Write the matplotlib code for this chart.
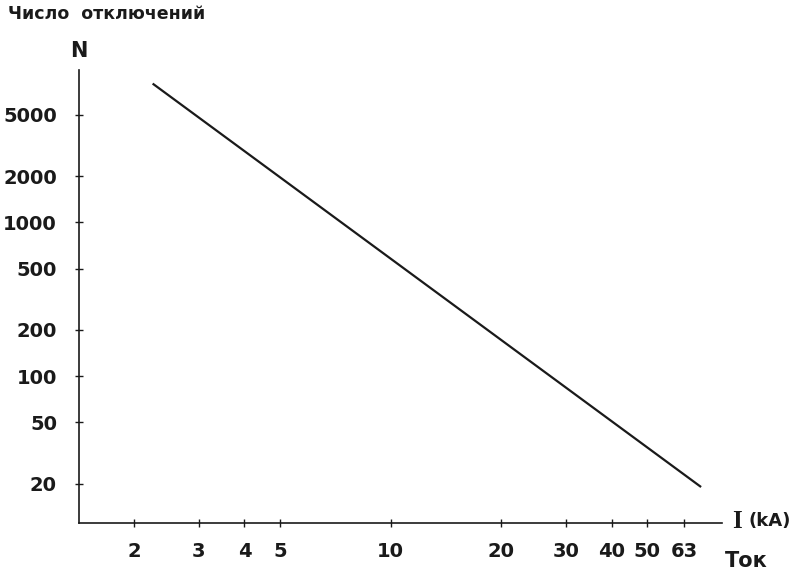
import numpy as np
import matplotlib.pyplot as plt
from matplotlib.ticker import NullLocator

# Tick values on both log axes
x_ticks = [2, 3, 4, 5, 10, 20, 30, 40, 50, 63]
y_ticks = [5000, 2000, 1000, 500, 200, 100, 50, 20]

# Line: current (kA) vs number of breaks
current = [2.25, 70]
n_breaks = [8000, 19]

plt.rcParams['font.family'] = ['DejaVu Sans']
plt.rcParams['font.weight'] = 'bold'

fig = plt.figure(figsize=(8, 5.74), dpi=100)
ax = fig.add_axes([0.099, 0.089, 0.804, 0.789])

ax.plot(current, n_breaks, color='#1a1a1a', linewidth=1.6, solid_capstyle='butt')

ax.set_xscale('log')
ax.set_yscale('log')
ax.set_xlim(1.42, 80)
ax.set_ylim(11.1, 9800)

ax.set_xticks(x_ticks, [str(v) for v in x_ticks])
ax.set_yticks(y_ticks, [str(v) for v in y_ticks])
ax.xaxis.set_minor_locator(NullLocator())
ax.yaxis.set_minor_locator(NullLocator())

ax.tick_params(axis='both', direction='inout', length=6, width=1.0,
               colors='#1a1a1a', labelsize=14)
ax.tick_params(axis='x', pad=11)
ax.tick_params(axis='y', pad=13)

for side in ['top', 'right']:
    ax.spines[side].set_visible(False)
for side in ['left', 'bottom']:
    ax.spines[side].set_linewidth(1.2)
    ax.spines[side].set_color('#1a1a1a')

# Labels
fig.text(0.01, 0.992, 'Число  отключений', fontsize=12.5, fontweight='bold',
         ha='left', va='top', color='#1a1a1a')
fig.text(0.099, 0.912, 'N', fontsize=15, fontweight='bold',
         ha='center', va='center', color='#1a1a1a')
fig.text(0.915, 0.091, 'I', fontsize=18, fontweight='bold', family='Liberation Serif',
         ha='left', va='center', color='#1a1a1a')
fig.text(0.935, 0.093, '(kA)', fontsize=13, fontweight='bold',
         ha='left', va='center', color='#1a1a1a')
fig.text(0.906, 0.005, 'Ток', fontsize=15, fontweight='bold',
         ha='left', va='bottom', color='#1a1a1a')

fig.savefig('out.png', dpi=100, facecolor='white')
